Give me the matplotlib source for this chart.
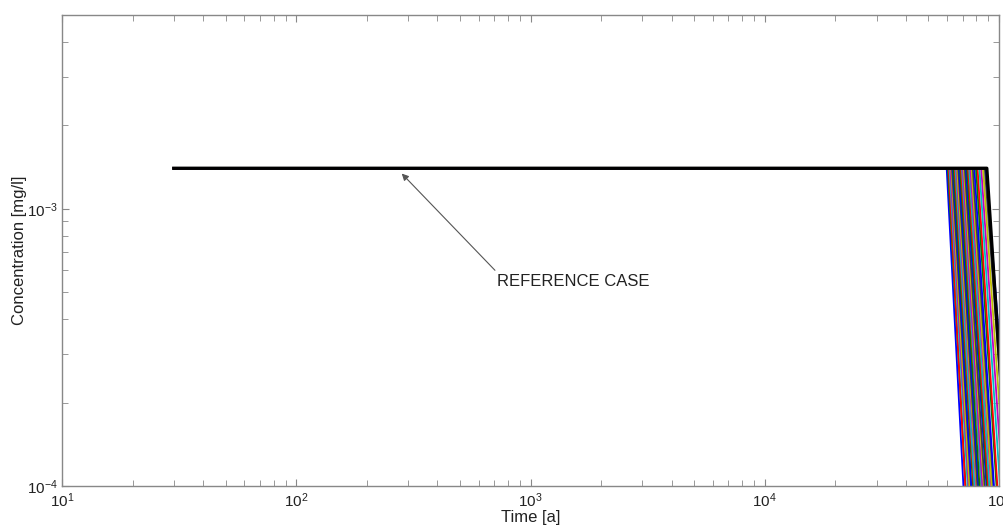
import matplotlib

matplotlib.use("Agg")
import matplotlib.pyplot as plt  # noqa: E402
from matplotlib.ticker import LogLocator, NullFormatter  # noqa: E402

plt.rcParams["font.family"] = ["Liberation Sans", "DejaVu Sans"]
plt.rcParams["mathtext.fontset"] = "custom"
plt.rcParams["mathtext.rm"] = "Liberation Sans"
plt.rcParams["mathtext.it"] = "Liberation Sans:italic"
plt.rcParams["axes.unicode_minus"] = False

# Plateau concentration and the time the curves start [a], [mg/l]
T_START = 30.0
C_PLATEAU = 1.4e-3
C_FLOOR = 1.0e-4

# Reference case: plateau until breakthrough, then steep decline
REF_T = [T_START, 88700.0, 109000.0]
REF_C = [C_PLATEAU, C_PLATEAU, C_FLOOR]

# Monte Carlo realisations: time the plateau ends, and time C falls to 1e-4
KNEE_T = [59800, 60500, 61000, 61500, 62000, 62600, 63000, 63600, 64000,
          64700, 65200, 65800, 66300, 67000, 67500, 68200, 68800, 69500,
          70100, 70800, 71500, 72300, 73000, 73800, 74600, 75500, 76400,
          77300, 78500, 79800, 81000, 82500, 84000, 85500, 87000, 88000]
END_T = [70500, 72000, 71800, 73500, 74200, 74800, 75900, 76200, 77500,
         78000, 78600, 79900, 80400, 80900, 81800, 82600, 83900, 84100,
         85000, 86200, 86900, 88400, 89100, 89900, 91000, 92600, 93100,
         94600, 95200, 97600, 98400, 101000, 103500, 106000, 109000, 112000]

# old-style colour order
COLORS = [(0, 0, 1), (0, 0.5, 0), (1, 0, 0), (0, 0.75, 0.75),
          (0.75, 0, 0.75), (0.75, 0.75, 0), (0.25, 0.25, 0.25)]

fig = plt.figure(figsize=(10.04, 5.27), dpi=100)
ax = fig.add_axes([0.0618, 0.0778, 0.9332, 0.8937])

for i, (tk, te) in enumerate(zip(KNEE_T, END_T)):
    ax.plot([T_START, tk, te], [C_PLATEAU, C_PLATEAU, C_FLOOR],
            color=COLORS[i % len(COLORS)], lw=1.3)
ax.plot(REF_T, REF_C, color="black", lw=2.4)

ax.set_xscale("log")
ax.set_yscale("log")
ax.set_xlim(10, 1e5)
ax.set_ylim(1e-4, 5e-3)

ax.xaxis.set_major_locator(LogLocator(base=10, numticks=10))
ax.xaxis.set_minor_locator(LogLocator(base=10, subs=range(2, 10), numticks=20))
ax.xaxis.set_minor_formatter(NullFormatter())
ax.yaxis.set_minor_locator(LogLocator(base=10, subs=range(2, 10), numticks=20))
ax.yaxis.set_minor_formatter(NullFormatter())

for s in ax.spines.values():
    s.set_color("#888888")
    s.set_linewidth(1.0)
ax.tick_params(which="both", direction="in", top=True, right=True,
               color="#888888", labelsize=11, labelcolor="#222222")
ax.tick_params(which="major", length=5, pad=4)
ax.tick_params(which="minor", length=4)
ax.tick_params(axis="y", which="major", pad=3)

ax.set_xlabel("Time [a]", fontsize=12, color="#222222", labelpad=0)
ax.set_ylabel("Concentration [mg/l]", fontsize=12, color="#222222",
              labelpad=0)

ax.annotate("", xy=(282, 1.34e-3), xytext=(705, 6.0e-4),
            arrowprops=dict(arrowstyle="-|>", color="#555555", lw=0.8,
                            mutation_scale=10, shrinkA=0, shrinkB=0))
ax.text(719, 5.46e-4, "REFERENCE CASE", fontsize=12, color="#222222",
        ha="left", va="center")

fig.savefig("out.png", dpi=100)
